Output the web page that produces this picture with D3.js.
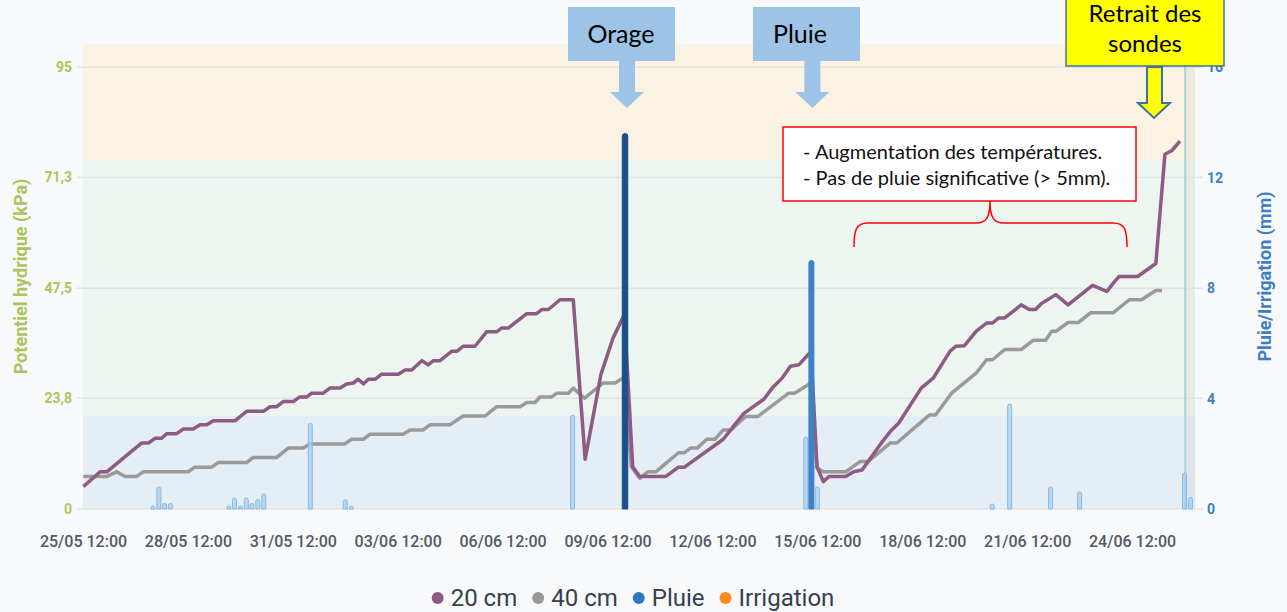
<!DOCTYPE html>
<html>
<head>
<meta charset="utf-8">
<script src="https://cdn.jsdelivr.net/npm/d3@7"></script>
<style>
  body { margin: 0; background: #f8f9fb; }
  svg { display: block; font-family: Roboto, sans-serif; }
</style>
</head>
<body>
<svg id="chart"></svg>
<script>
// Chart dimensions
const width = 1287;
const height = 612;
const margin = { top: 44, right: 92, bottom: 103, left: 83 };

// Data: [days since 25/05 12:00, value]
const startLabel = "25/05/2023 12:00";
const probe20 = [[0.01,4.8],[0.49,8.0],[0.68,8.0],[1.68,14.2],[1.87,14.2],[2.06,15.2],[2.25,15.2],[2.39,16.2],[2.68,16.2],[2.87,17.2],[3.15,17.2],[3.35,18.1],[3.54,18.1],[3.73,19.0],[4.35,19.0],[4.68,21.0],[5.16,21.0],[5.35,22.0],[5.54,22.0],[5.73,23.1],[6.01,23.1],[6.20,24.1],[6.40,24.1],[6.54,24.9],[6.87,24.9],[7.06,26.0],[7.35,26.0],[7.54,26.9],[7.73,27.1],[7.87,27.9],[8.02,26.9],[8.16,27.9],[8.35,27.9],[8.54,29.0],[9.02,29.0],[9.21,29.9],[9.40,29.9],[9.69,31.9],[9.87,31.0],[10.02,31.9],[10.21,31.9],[10.54,33.9],[10.69,33.9],[10.87,35.0],[11.21,35.0],[11.54,38.1],[11.83,38.1],[11.97,38.9],[12.16,38.9],[12.69,42.0],[12.97,42.0],[13.12,42.9],[13.31,42.9],[13.64,45.0],[14.02,45.0],[14.36,10.7],[14.81,28.9],[15.16,36.8],[15.48,41.8],[15.72,9.1],[15.92,7.0],[16.67,7.0],[17.03,9.0],[17.20,9.0],[18.31,15.0],[18.89,20.5],[19.47,23.6],[19.71,26.0],[20.00,28.2],[20.23,30.7],[20.47,31.0],[20.82,33.9],[20.99,9.1],[21.17,5.9],[21.34,7.0],[21.81,7.0],[22.04,8.0],[22.28,8.4],[22.86,14.5],[23.09,16.7],[23.33,18.5],[23.97,26.0],[24.32,28.2],[24.79,33.9],[24.96,35.0],[25.20,35.1],[25.54,38.2],[25.84,40.0],[26.01,40.0],[26.19,41.1],[26.36,41.1],[26.83,43.9],[27.06,42.9],[27.24,42.9],[27.41,44.2],[27.82,46.1],[28.17,43.9],[28.87,48.1],[29.28,46.8],[29.51,49.0],[29.63,50.0],[30.16,50.0],[30.68,52.8],[30.94,76.3],[31.14,77.1],[31.37,79.1]];
const probe40 = [[0.01,7.0],[0.68,7.0],[0.96,8.0],[1.20,7.0],[1.54,7.0],[1.72,8.0],[3.01,8.0],[3.20,9.0],[3.68,9.0],[3.87,10.0],[4.68,10.0],[4.87,11.1],[5.54,11.1],[5.87,13.1],[6.30,13.1],[6.49,14.0],[7.49,14.0],[7.68,15.0],[8.02,15.0],[8.21,16.1],[9.16,16.1],[9.35,17.0],[9.73,17.0],[9.92,18.1],[10.49,18.1],[10.87,20.0],[11.50,20.0],[11.83,22.0],[12.50,22.0],[12.69,22.9],[12.93,22.9],[13.07,24.1],[13.40,24.1],[13.55,24.9],[13.88,24.9],[14.02,26.0],[14.34,23.8],[14.87,27.1],[15.22,27.1],[15.45,28.2],[15.50,28.2],[15.68,9.1],[15.92,6.6],[16.15,8.0],[16.38,8.0],[17.03,12.1],[17.20,12.1],[17.37,13.1],[17.56,13.1],[17.84,15.0],[18.07,15.0],[18.31,17.0],[18.53,17.0],[18.95,19.9],[19.30,19.9],[20.18,24.9],[20.35,24.9],[20.82,27.1],[20.99,8.8],[21.17,8.0],[21.81,8.0],[22.22,10.2],[22.45,10.2],[23.09,14.2],[23.27,14.2],[24.20,20.2],[24.38,20.2],[24.84,24.9],[25.54,29.2],[25.84,32.1],[26.01,32.1],[26.36,34.3],[26.83,34.3],[27.18,36.3],[27.53,36.3],[27.70,38.2],[27.82,38.2],[28.17,40.1],[28.46,40.1],[28.81,42.2],[29.46,42.2],[29.92,45.0],[30.27,45.0],[30.68,47.0],[30.86,47.0]];
const rain = [[2.0,0.08],[2.17,0.8],[2.33,0.2],[2.5,0.2],[4.17,0.08],[4.33,0.4],[4.5,0.08],[4.67,0.4],[4.83,0.2],[5.0,0.35],[5.17,0.55],[6.5,3.1],[7.5,0.33],[7.67,0.08],[14.0,3.4],[15.5,13.6],[20.67,2.6],[20.83,9.0],[21.0,0.8],[26.0,0.18],[26.5,3.8],[27.67,0.8],[28.5,0.62],[31.5,1.3],[31.67,0.42]];
const retraitDay = 31.52;
const endDay = 31.8;

const xTickLabels = ["25/05 12:00","28/05 12:00","31/05 12:00","03/06 12:00","06/06 12:00","09/06 12:00","12/06 12:00","15/06 12:00","18/06 12:00","21/06 12:00","24/06 12:00"];
const kpaTicks = [0, 23.8, 47.5, 71.3, 95];
const mmTicks = [0, 4, 8, 12, 16];
const zoneLimits = [0, 20, 75, 100];
const legendNames = ["20 cm", "40 cm", "Pluie", "Irrigation"];

// Colors
const zoneColors = ["#e5edf5", "#edf5f0", "#faf2e2"];
const legendColors = ["#8e5a85", "#999999", "#2f78c0", "#ff8c1a"];

const parse = d3.timeParse("%d/%m/%Y %H:%M");
const start = parse(startLabel);
const toDate = d => new Date(start.getTime() + d * 864e5);

const svg = d3.select("#chart").attr("width", width).attr("height", height);

const x = d3.scaleTime()
  .domain([start, toDate(endDay)])
  .range([margin.left, width - margin.right]);
const yK = d3.scaleLinear().domain([0, 100]).range([height - margin.bottom, margin.top]);
const yM = d3.scaleLinear().domain([0, 16 * 100 / 95]).range([height - margin.bottom, margin.top]);

// Zones
svg.append("g").selectAll("rect")
  .data(zoneColors)
  .enter().append("rect")
  .attr("x", x.range()[0])
  .attr("width", x.range()[1] - x.range()[0])
  .attr("y", (c, i) => yK(zoneLimits[i + 1]))
  .attr("height", (c, i) => yK(zoneLimits[i]) - yK(zoneLimits[i + 1]))
  .attr("fill", c => c);

// after probe removal
svg.append("rect")
  .attr("x", x(toDate(retraitDay)))
  .attr("width", x.range()[1] - x(toDate(retraitDay)))
  .attr("y", yK(100))
  .attr("height", yK(0) - yK(100))
  .attr("fill", "rgba(170,170,140,0.10)");

// Grid
svg.append("g").selectAll("line")
  .data(kpaTicks)
  .enter().append("line")
  .attr("x1", 77).attr("x2", 1203)
  .attr("y1", d => yK(d)).attr("y2", d => yK(d))
  .attr("stroke", "#e2e4e6").attr("stroke-width", 1.5);

// Left axis
const leftAxis = d3.axisLeft(yK).tickValues(kpaTicks).tickSize(0).tickPadding(11)
  .tickFormat(d => String(d).replace(".", ","));
svg.append("g").attr("transform", `translate(${margin.left},0)`).call(leftAxis)
  .call(g => g.select(".domain").remove())
  .selectAll("text")
  .attr("fill", "#a8c65b").attr("font-size", 14).attr("font-weight", 700)
  .attr("font-family", "Roboto");

// Right axis
const rightAxis = d3.axisRight(yM).tickValues(mmTicks).tickSize(0).tickPadding(12);
svg.append("g").attr("transform", `translate(${width - margin.right},0)`).call(rightAxis)
  .call(g => g.select(".domain").remove())
  .selectAll("text")
  .attr("fill", "#3d7fc2").attr("font-size", 14).attr("font-weight", 700)
  .attr("font-family", "Roboto");

// Bottom axis
const xTicks = xTickLabels.map(l => parse(l.replace(" ", "/2023 ")));
const bottomAxis = d3.axisBottom(x).tickValues(xTicks).tickSize(0).tickPadding(27)
  .tickFormat(d3.timeFormat("%d/%m %H:%M"));
svg.append("g").attr("transform", `translate(0,${height - margin.bottom})`).call(bottomAxis)
  .call(g => g.select(".domain").remove())
  .selectAll("text")
  .attr("fill", "#505a64").attr("font-size", 16).attr("font-weight", 500)
  .attr("font-family", "Roboto");

// Axis titles
svg.append("text")
  .attr("transform", `translate(27,${yK(50)}) rotate(-90)`)
  .attr("text-anchor", "middle")
  .attr("fill", "#a8c65b").attr("font-size", 18).attr("font-weight", 700)
  .text("Potentiel hydrique (kPa)");
svg.append("text")
  .attr("transform", `translate(1271,${yK(50)}) rotate(-90)`)
  .attr("text-anchor", "middle")
  .attr("fill", "#3d7fc2").attr("font-size", 18).attr("font-weight", 700)
  .text("Pluie/Irrigation (mm)");

// Retrait line
svg.append("line")
  .attr("x1", x(toDate(retraitDay))).attr("x2", x(toDate(retraitDay)))
  .attr("y1", yK(100)).attr("y2", yK(0))
  .attr("stroke", "#a6d5d8").attr("stroke-width", 2);

// Lines
const line = d3.line()
  .x(d => x(toDate(d[0])))
  .y(d => yK(d[1]));

svg.append("path").datum(probe40)
  .attr("d", line).attr("fill", "none")
  .attr("stroke", "#9a9a9a").attr("stroke-width", 3.5).attr("stroke-linejoin", "round");
svg.append("path").datum(probe20)
  .attr("d", line).attr("fill", "none")
  .attr("stroke", "#8d5b84").attr("stroke-width", 3.5).attr("stroke-linejoin", "round");

// Rain bars
function barPath(d, w) {
  const cx = x(toDate(d[0]));
  const y0 = yM(0);
  const y1 = yM(d[1]);
  const r = Math.min(w / 2, (y0 - y1) / 2);
  return `M${cx - w / 2},${y0} V${y1 + r} A${r},${r} 0 0 1 ${cx + w / 2},${y1 + r} V${y0} Z`;
}
svg.append("g").selectAll("path")
  .data(rain)
  .enter().append("path")
  .attr("d", d => barPath(d, d[1] >= 10 ? 5.5 : d[1] >= 5 ? 5 : 4))
  .attr("fill", d => d[1] >= 10 ? "#1b4f8c" : d[1] >= 5 ? "#3d82c4" : "rgba(170,206,238,0.75)")
  .attr("stroke", d => d[1] >= 10 ? "#1b4f8c" : d[1] >= 5 ? "#3d82c4" : "#88bbe6")
  .attr("stroke-width", 1);

// Legend
const legend = svg.append("g").attr("transform", "translate(0,598)");
let lx = 0;
const items = legend.selectAll("g").data(legendNames).enter().append("g");
items.append("circle").attr("r", 6).attr("cy", 0).attr("fill", (d, i) => legendColors[i]);
items.append("text").attr("x", 13).attr("dy", "0.35em")
  .attr("font-size", 24).attr("fill", "#34414d").text(d => d);
items.each(function () {
  const g = d3.select(this);
  const w = g.select("text").node().getComputedTextLength();
  g.attr("transform", `translate(${lx + 6},0)`);
  lx += 13 + w + 15 + 6;
});
legend.attr("transform", `translate(${633 - (lx - 15) / 2},598)`);

// Annotations
const ann = svg.append("g").attr("font-family", "Lato, sans-serif");

function callout(cx, label, boxX, boxW, tipX) {
  ann.append("rect").attr("x", boxX).attr("y", 7).attr("width", boxW).attr("height", 54).attr("fill", "#9dc3e6");
  ann.append("text").attr("x", cx).attr("y", 43).attr("text-anchor", "middle")
    .attr("font-size", 25).attr("fill", "#000").text(label);
  ann.append("path")
    .attr("d", `M${tipX - 8},61 V92 H${tipX - 17} L${tipX},108 L${tipX + 17},92 H${tipX + 8} V61 Z`)
    .attr("fill", "#9dc3e6");
}
callout(621, "Orage", 568, 107, x(toDate(15.5)) + 2);
callout(800, "Pluie", 753, 107, x(toDate(20.83)) + 1);

// Retrait des sondes
ann.append("rect").attr("x", 1066).attr("y", -10).attr("width", 158).attr("height", 76)
  .attr("fill", "#ffff00").attr("stroke", "#41719c").attr("stroke-width", 1.5);
ann.append("text").attr("x", 1145).attr("y", 22).attr("text-anchor", "middle")
  .attr("font-size", 24).text("Retrait des");
ann.append("text").attr("x", 1145).attr("y", 52).attr("text-anchor", "middle")
  .attr("font-size", 24).text("sondes");
ann.append("path")
  .attr("d", "M1147,67 V103 H1138 L1154,118 L1170,103 H1162 V67 Z")
  .attr("fill", "#ffff00").attr("stroke", "#41719c").attr("stroke-width", 2);

// Red note
ann.append("rect").attr("x", 783).attr("y", 127).attr("width", 353).attr("height", 74)
  .attr("fill", "#fff").attr("stroke", "#ff0000").attr("stroke-width", 1.5);
ann.append("text").attr("x", 803).attr("y", 159).attr("font-size", 20).attr("fill", "#111")
  .text("- Augmentation des températures.");
ann.append("text").attr("x", 803).attr("y", 185).attr("font-size", 20).attr("fill", "#111")
  .text("- Pas de pluie significative (> 5mm).");
ann.append("path")
  .attr("d", "M854,247 C854,230 856,223 868,223 L976,223 C986,223 990,218 990,201 C990,218 994,223 1004,223 L1113,223 C1125,223 1127,230 1127,247")
  .attr("fill", "none").attr("stroke", "#ff0000").attr("stroke-width", 1.5);
</script>
</body>
</html>
